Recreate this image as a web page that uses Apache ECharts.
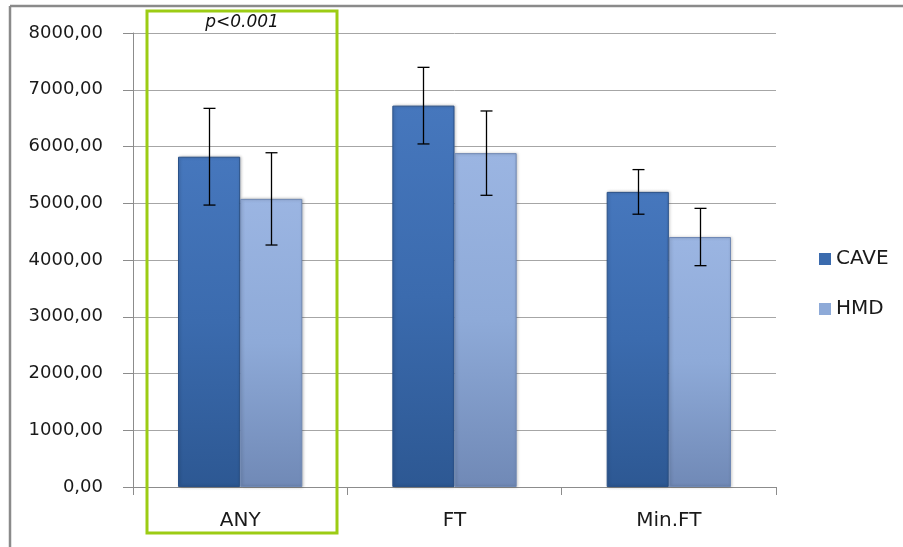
<!DOCTYPE html>
<html><head><meta charset="utf-8">
<script src="https://cdn.jsdelivr.net/npm/echarts@6/dist/echarts.min.js"></script>
<style>html,body{margin:0;padding:0;background:#fff}#c{width:903px;height:547px}</style>
</head><body><div id="c"></div>
<script>
var categories = ['ANY', 'FT', 'Min.FT'];
var seriesNames = ['CAVE', 'HMD'];
var caveValues = [5820, 6720, 5200];
var caveErrors = [852, 675, 393];
var hmdValues = [5077, 5883, 4405];
var hmdErrors = [813, 743, 505];
var yTicks = [0, 1000, 2000, 3000, 4000, 5000, 6000, 7000, 8000];
var annotationText = 'p<0.001';

var FONT = 'DejaVu Sans';
var chart = echarts.init(document.getElementById('c'), null, {renderer: 'canvas'});

function grad(top, mid, bot) {
  return new echarts.graphic.LinearGradient(0, 0, 0, 1, [
    {offset: 0, color: top}, {offset: 0.5, color: mid}, {offset: 1, color: bot}
  ]);
}
var caveColor = grad('#4677bd', '#3b6bae', '#2d5893');
var hmdColor = grad('#9bb5e2', '#8eaad8', '#7089b6');

function errorSeries(values, errors, sign) {
  return {
    type: 'custom',
    silent: true,
    z: 10,
    data: values.map(function (v, i) { return [i, v - errors[i], v + errors[i]]; }),
    renderItem: function (params, api) {
      var band = api.size([1, 0])[0];
      var off = sign * band * 0.145;
      var lo = api.coord([api.value(0), api.value(1)]);
      var hi = api.coord([api.value(0), api.value(2)]);
      var x = Math.round(lo[0] + off) + 0.5;
      var st = {stroke: '#000', lineWidth: 1.3};
      return {type: 'group', children: [
        {type: 'line', shape: {x1: x, y1: lo[1], x2: x, y2: hi[1]}, style: st},
        {type: 'line', shape: {x1: x - 6, y1: lo[1], x2: x + 6, y2: lo[1]}, style: st},
        {type: 'line', shape: {x1: x - 6, y1: hi[1], x2: x + 6, y2: hi[1]}, style: st}
      ]};
    }
  };
}

chart.setOption({
  animation: false,
  backgroundColor: '#fff',
  grid: {left: 133, right: 127, top: 33, bottom: 60, containLabel: false},
  legend: {
    orient: 'vertical', left: 814, top: 244,
    itemWidth: 12, itemHeight: 12, itemGap: 30,
    data: [{name: 'CAVE', icon: 'rect', itemStyle: {color: '#3b6bae', borderWidth: 0}}, {name: 'HMD', icon: 'rect', itemStyle: {color: '#8eaad8', borderWidth: 0}}],
    textStyle: {fontFamily: FONT, fontSize: 20, color: '#1a1a1a'}
  },
  xAxis: {
    type: 'category', data: categories,
    axisLine: {lineStyle: {color: '#8c8c8c', width: 1}},
    axisTick: {show: true, length: 8, alignWithLabel: false, lineStyle: {color: '#8c8c8c'}},
    axisLabel: {fontFamily: FONT, fontSize: 20, color: '#1a1a1a', margin: 24}
  },
  yAxis: {
    type: 'value', min: yTicks[0], max: yTicks[yTicks.length - 1], interval: 1000,
    axisLine: {show: true, lineStyle: {color: '#8c8c8c'}},
    axisTick: {show: true, length: 10, inside: false, lineStyle: {color: '#8c8c8c'}},
    splitLine: {lineStyle: {color: '#a6a6a6', width: 1}},
    axisLabel: {fontFamily: FONT, fontSize: 18, color: '#1a1a1a', margin: 30,
      formatter: function (v) { return v.toFixed(2).replace('.', ','); }}
  },
  series: [
    {name: 'CAVE', type: 'bar', data: caveValues, barWidth: '29%', barGap: '0%',
      itemStyle: {color: caveColor, borderColor: '#2a5188', borderWidth: 1, shadowColor: 'rgba(0,0,0,0.25)', shadowBlur: 3, shadowOffsetX: 1}},
    {name: 'HMD', type: 'bar', data: hmdValues, barWidth: '29%', barGap: '0%',
      itemStyle: {color: hmdColor, borderColor: '#6f88b4', borderWidth: 1, shadowColor: 'rgba(0,0,0,0.25)', shadowBlur: 3, shadowOffsetX: 1}},
    errorSeries(caveValues, caveErrors, -1),
    errorSeries(hmdValues, hmdErrors, 1)
  ],
  graphic: [
    {type: 'line', shape: {x1: 10, y1: 6, x2: 903, y2: 6}, style: {stroke: '#8a8a8a', lineWidth: 2.5}, z: 100},
    {type: 'line', shape: {x1: 10, y1: 6, x2: 10, y2: 547}, style: {stroke: '#8a8a8a', lineWidth: 2.5}, z: 100},
    {type: 'rect', shape: {x: 147, y: 11, width: 190, height: 522}, style: {fill: 'none', stroke: '#9ccc14', lineWidth: 3}, z: 100},
    {type: 'text', x: 242, y: 23, style: {text: annotationText, fontFamily: FONT, fontStyle: 'italic', fontSize: 17, fill: '#111', align: 'center', verticalAlign: 'middle'}, z: 100}
  ]
});
</script></body></html>
